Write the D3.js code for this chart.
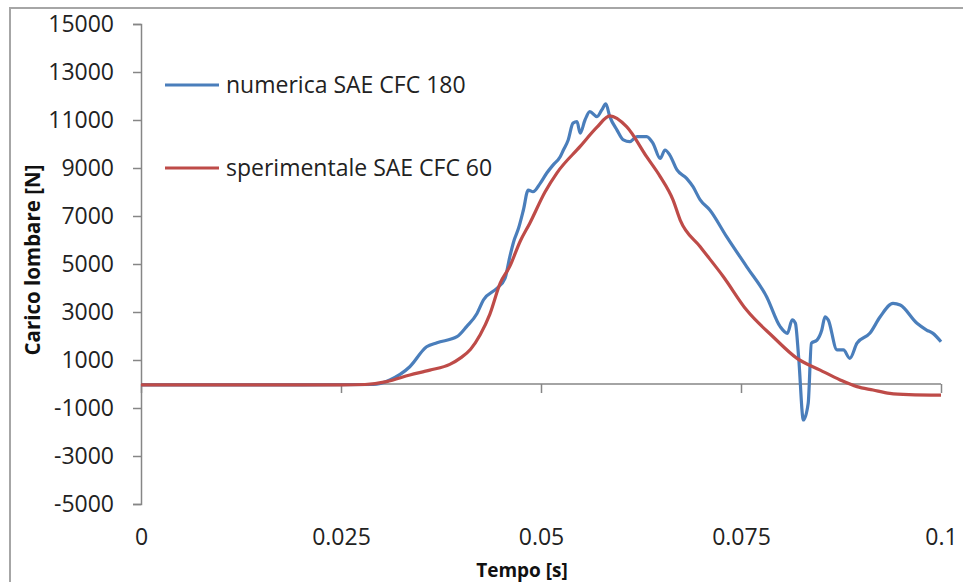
<!DOCTYPE html>
<html>
<head>
<meta charset="utf-8">
<script src="https://cdn.jsdelivr.net/npm/d3@7"></script>
<style>
  body { margin: 0; background: #fff; }
  svg { display: block; font-family: "Open Sans", sans-serif; }
</style>
</head>
<body>
<div id="chart"></div>
<script>
// time axis (s) and load values (N)
var numTime = [0, 0.02, 0.029, 0.0311, 0.0336, 0.0357, 0.037, 0.0395, 0.0407, 0.042, 0.0428, 0.0445,
  0.0455, 0.0461, 0.0466, 0.0472, 0.0478, 0.0484, 0.049, 0.0499, 0.0507, 0.0515, 0.0524, 0.0528, 0.0534,
  0.054, 0.0545, 0.0549, 0.0555, 0.0561, 0.057, 0.0576, 0.0581, 0.0586, 0.0595, 0.0603, 0.0611,
  0.062, 0.0632, 0.064, 0.0649, 0.0655, 0.0661, 0.067, 0.0682, 0.069, 0.0699, 0.0711, 0.0732,
  0.0757, 0.0782, 0.0799, 0.0808, 0.0814, 0.0818, 0.0822, 0.0828, 0.0834, 0.0838, 0.0845, 0.0851,
  0.0855, 0.0859, 0.087, 0.0878, 0.0886, 0.0895, 0.0911, 0.0924, 0.094, 0.0949, 0.097, 0.0982,
  0.099, 0.1];
var numLoad = [-40, -40, -20, 170, 720, 1550, 1720, 1970, 2390, 2940, 3500, 3990,
  4400, 5300, 5950, 6500, 7250, 8080, 8010, 8360, 8780, 9120, 9470, 9750, 10170,
  10870, 10930, 10450, 11000, 11350, 11140, 11420, 11670, 11140, 10580, 10170, 10100,
  10310, 10310, 10030, 9400, 9750, 9540, 8920, 8570, 8220, 7670, 7250, 6140,
  4890, 3640, 2390, 2110, 2670, 2530, 1140, -1500, -800, 1700, 1830, 2250,
  2800, 2670, 1420, 1420, 1070, 1700, 2110, 2800, 3360, 3290, 2530, 2250,
  2110, 1760];

var expTime = [0, 0.01, 0.02, 0.025, 0.028, 0.0307, 0.0336, 0.0361, 0.0386, 0.04, 0.0412, 0.0424,
  0.0436, 0.0449, 0.0461, 0.0474, 0.0486, 0.0505, 0.052, 0.0549, 0.057, 0.0586, 0.0607, 0.0632,
  0.0649, 0.0665, 0.0674, 0.0699, 0.0728, 0.0757, 0.079, 0.082, 0.0849, 0.0874, 0.0895, 0.0915,
  0.0936, 0.096, 0.1];
var expLoad = [-40, -40, -40, -40, -20, 100, 375, 580, 820, 1100, 1450, 2050,
  2900, 4200, 4900, 5950, 6700, 8000, 8800, 9900, 10700, 11170, 10720, 9470,
  8640, 7670, 6830, 5720, 4470, 3080, 1970, 1070, 580, 170, -110, -250,
  -390, -440, -460];

var xTicks = [0, 0.025, 0.05, 0.075, 0.1];
var xTickLabels = ["0", "0.025", "0.05", "0.075", "0.1"];
var yTicks = [-5000, -3000, -1000, 1000, 3000, 5000, 7000, 9000, 11000, 13000, 15000];

var seriesNames = ["numerica SAE CFC 180", "sperimentale SAE CFC 60"];
var seriesColors = ["#4a7ebb", "#be4b48"];

var svgWidth = 963;
var svgHeight = 582;

var svg = d3.select("#chart")
  .append("svg")
  .attr("width", svgWidth)
  .attr("height", svgHeight);

// outer chart frame
svg.append("rect")
  .attr("x", 10)
  .attr("y", 8)
  .attr("width", 980)
  .attr("height", 600)
  .attr("fill", "none")
  .attr("stroke", "#a6a6a6")
  .attr("stroke-width", 2);

var x = d3.scaleLinear().domain([0, 0.1]).range([141, 941]);
var y = d3.scaleLinear().domain([-5000, 15000]).range([504, 24]);

// y axis
var yAxis = svg.append("g")
  .attr("transform", "translate(141,0)")
  .call(d3.axisLeft(y).tickValues(yTicks).tickSize(8).tickPadding(19).tickFormat(d => String(d)));

yAxis.select(".domain").attr("stroke", "#868686").attr("stroke-width", 1.5);
yAxis.selectAll(".tick line").attr("stroke", "#868686").attr("stroke-width", 1.5);
yAxis.selectAll(".tick text")
  .attr("fill", "#222")
  .attr("font-size", "23px")
  .attr("font-family", "Open Sans, sans-serif");

// x axis line sits at zero, labels sit at the bottom
var xAxisLine = svg.append("g")
  .attr("transform", `translate(0,${y(0)})`)
  .call(d3.axisBottom(x).tickValues(xTicks).tickSize(9).tickFormat(""));

xAxisLine.select(".domain").attr("stroke", "#868686").attr("stroke-width", 1.5)
  .attr("d", `M${x(0)},0H${x(0.1)}`);
xAxisLine.selectAll(".tick line").attr("stroke", "#868686").attr("stroke-width", 1.5);

var xLabels = svg.append("g")
  .attr("transform", "translate(0,529)")
  .call(d3.axisBottom(x).tickValues(xTicks).tickSize(0).tickPadding(0)
    .tickFormat((d, i) => xTickLabels[i]));

xLabels.select(".domain").remove();
xLabels.selectAll(".tick text")
  .attr("fill", "#222")
  .attr("font-size", "23px")
  .attr("font-family", "Open Sans, sans-serif");

// axis titles
svg.append("text")
  .attr("x", 522)
  .attr("y", 577)
  .attr("text-anchor", "middle")
  .attr("font-weight", "bold")
  .attr("font-size", "19px")
  .attr("fill", "#111")
  .text("Tempo [s]");

svg.append("text")
  .attr("transform", "translate(40,260) rotate(-90)")
  .attr("text-anchor", "middle")
  .attr("font-weight", "bold")
  .attr("font-size", "20.5px")
  .attr("fill", "#111")
  .text("Carico lombare [N]");

// lines
var line = d3.line()
  .x(d => x(d[0]))
  .y(d => y(d[1]))
  .curve(d3.curveMonotoneX);

var expData = expTime.map((t, i) => [t, expLoad[i]]);
var numData = numTime.map((t, i) => [t, numLoad[i]]);

svg.append("path")
  .datum(numData)
  .attr("d", line)
  .attr("fill", "none")
  .attr("stroke", seriesColors[0])
  .attr("stroke-width", 3.2)
  .attr("stroke-linejoin", "round");

svg.append("path")
  .datum(expData)
  .attr("d", line)
  .attr("fill", "none")
  .attr("stroke", seriesColors[1])
  .attr("stroke-width", 3.2)
  .attr("stroke-linejoin", "round");

// legend
var legend = svg.append("g");
seriesNames.forEach(function(name, i) {
  var ly = 85 + i * 83;
  legend.append("line")
    .attr("x1", 165)
    .attr("x2", 219)
    .attr("y1", ly)
    .attr("y2", ly)
    .attr("stroke", seriesColors[i])
    .attr("stroke-width", 3.2);
  legend.append("text")
    .attr("x", 226)
    .attr("y", ly + 8)
    .attr("font-size", "23px")
    .attr("fill", "#222")
    .text(name);
});
</script>
</body>
</html>
